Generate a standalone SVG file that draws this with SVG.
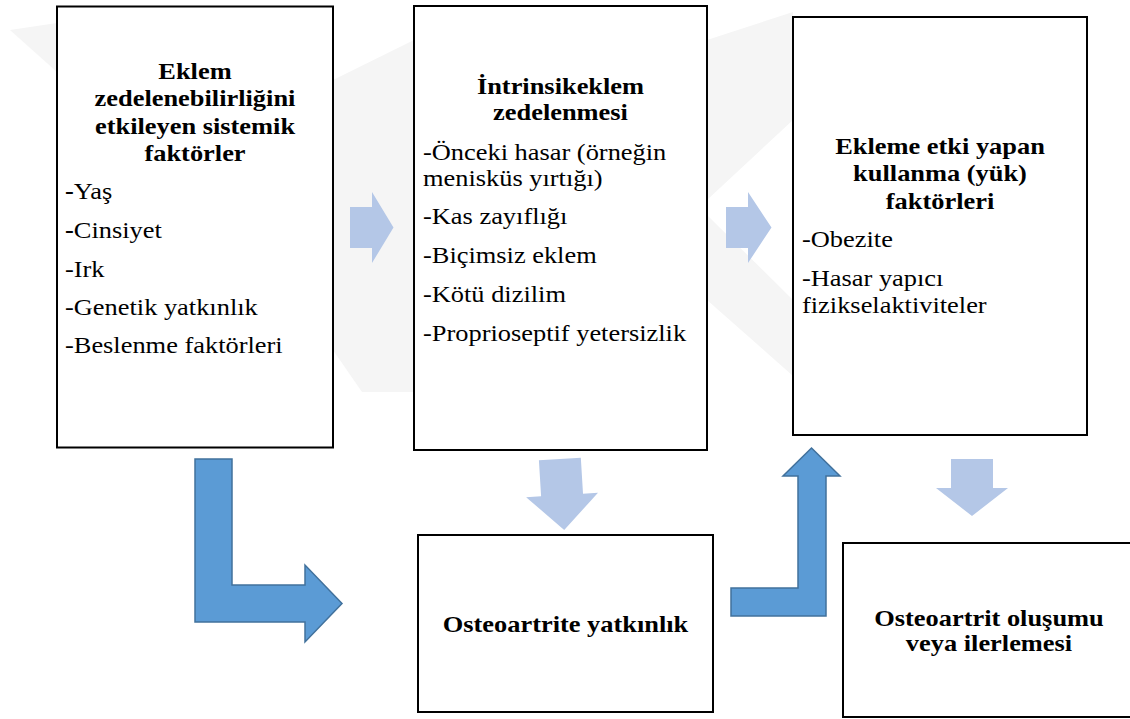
<svg xmlns="http://www.w3.org/2000/svg" width="1130" height="719" viewBox="0 0 1130 719">
<style>
.box{fill:#fff;stroke:#000;stroke-width:2}
.t{font-size:24px;fill:#000}
.b{font-weight:bold}
.c{text-anchor:middle}
.light{fill:#B4C7E7}
.dark{fill:#5B9BD5;stroke:#41719C;stroke-width:1.5}
.wm{fill:#F5F5F5}
</style>
<rect x="0" y="0" width="1130" height="719" fill="#fff"/>
<g id="watermark">
<polygon class="wm" points="10,30 57,23 57,72"/>
<polygon class="wm" points="333,80 414,40 414,392 362,392 333,350"/>
<polygon class="wm" points="707,40 793,12 793,120 707,200"/>
<polygon class="wm" points="707,215 793,300 793,376 707,300"/>
</g>
<g id="n1" font-family="'Liberation Serif', 'DejaVu Serif', serif">
<rect class="box" x="57" y="6.5" width="276" height="441"/>
<g transform="translate(195,0) scale(1.1,1)">
<text class="t b c"><tspan x="0" y="79">Eklem</tspan><tspan x="0" y="106.5">zedelenebilirliğini</tspan><tspan x="0" y="134">etkileyen sistemik</tspan><tspan x="0" y="161.5">faktörler</tspan></text>
</g>
<g transform="translate(65,0) scale(1.1,1)">
<text class="t"><tspan x="0" y="199"><tspan font-weight="bold">-</tspan>Yaş</tspan><tspan x="0" y="238"><tspan font-weight="bold">-</tspan>Cinsiyet</tspan><tspan x="0" y="277">-Irk</tspan><tspan x="0" y="315">-Genetik yatkınlık</tspan><tspan x="0" y="353">-Beslenme faktörleri</tspan></text>
</g>
</g>
<g id="n2" font-family="'Liberation Serif', 'DejaVu Serif', serif">
<rect class="box" x="414" y="6" width="293" height="444"/>
<g transform="translate(560.5,0) scale(1.1,1)">
<text class="t b c"><tspan x="0" y="94">İntrinsikeklem</tspan><tspan x="0" y="120.5">zedelenmesi</tspan></text>
</g>
<g transform="translate(423,0) scale(1.1,1)">
<text class="t"><tspan x="0" y="160">-Önceki hasar (örneğin</tspan><tspan x="0" y="186">menisküs yırtığı)</tspan><tspan x="0" y="224">-Kas zayıflığı</tspan><tspan x="0" y="263">-Biçimsiz eklem</tspan><tspan x="0" y="302">-Kötü dizilim</tspan><tspan x="0" y="341">-Proprioseptif yetersizlik</tspan></text>
</g>
</g>
<g id="n3" font-family="'Liberation Serif', 'DejaVu Serif', serif">
<rect class="box" x="793" y="17" width="294" height="418"/>
<g transform="translate(940,0) scale(1.1,1)">
<text class="t b c"><tspan x="0" y="154">Ekleme etki yapan</tspan><tspan x="0" y="181">kullanma (yük)</tspan><tspan x="0" y="209">faktörleri</tspan></text>
</g>
<g transform="translate(802,0) scale(1.1,1)">
<text class="t"><tspan x="0" y="247">-Obezite</tspan><tspan x="0" y="286">-Hasar yapıcı</tspan><tspan x="0" y="313">fizikselaktiviteler</tspan></text>
</g>
</g>
<g id="n4" font-family="'Liberation Serif', 'DejaVu Serif', serif">
<rect class="box" x="418" y="535" width="295" height="177"/>
<g transform="translate(565.5,0) scale(1.1,1)">
<text class="t b c"><tspan x="0" y="632">Osteoartrite yatkınlık</tspan></text>
</g>
</g>
<g id="n5" font-family="'Liberation Serif', 'DejaVu Serif', serif">
<rect class="box" x="843" y="543" width="300" height="174"/>
<g transform="translate(989,0) scale(1.1,1)">
<text class="t b c"><tspan x="0" y="626">Osteoartrit oluşumu</tspan><tspan x="0" y="651.5">veya ilerlemesi</tspan></text>
</g>
</g>
<g id="connectors">
<polygon class="light" points="350,207 372,207 372,192 393.5,227.5 372,263 372,248 350,248"/>
<polygon class="light" points="726,207 748,207 748,192 771.5,227.5 748,263 748,248 726,248"/>
<polygon class="light" transform="rotate(-3.5 562 494)" points="541,459 583,459 583,495 598,495 562,530 526,495 541,495"/>
<polygon class="light" points="951,459 993,459 993,488 1008,488 972,516 936,488 951,488"/>
<polygon class="dark" points="195,459 232,459 232,585 305,585 305,565 342,603.5 305,642 305,622 195,622"/>
<polygon class="dark" points="731,588 798,588 798,476 783,476 811.5,448 840,476 826,476 826,616 731,616"/>
</g>
</svg>
